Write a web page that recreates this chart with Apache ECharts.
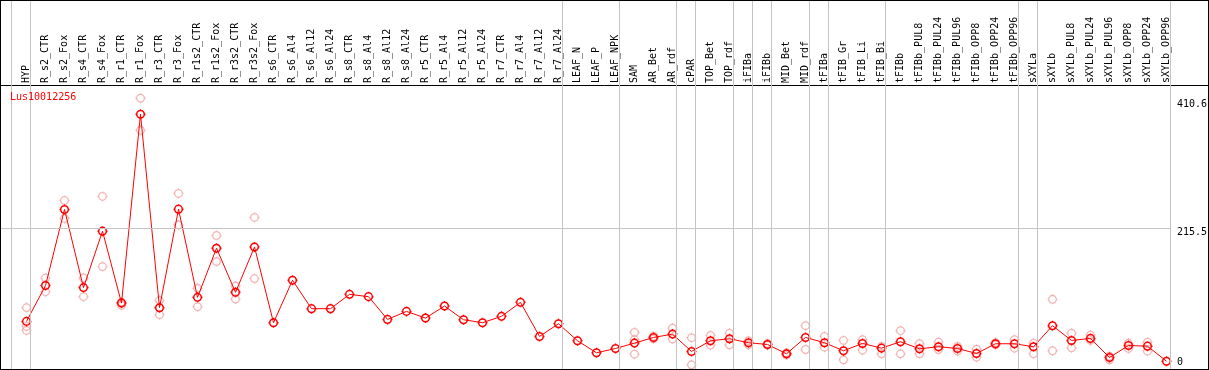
<!DOCTYPE html>
<html>
<head>
<meta charset="utf-8">
<script src="https://cdn.jsdelivr.net/npm/echarts@6/dist/echarts.min.js"></script>
<style>
  html, body { margin: 0; padding: 0; background: #fff; }
  #main { width: 1209px; height: 370px; border: 1px solid #000; box-sizing: border-box; }
</style>
</head>
<body>
<div id="main"></div>
<script>
// sample names (top axis)
var categories = ['HYP','R_s2_CTR','R_s2_Fox','R_s4_CTR','R_s4_Fox','R_r1_CTR','R_r1_Fox','R_r3_CTR','R_r3_Fox',
  'R_r1s2_CTR','R_r1s2_Fox','R_r3s2_CTR','R_r3s2_Fox','R_s6_CTR','R_s6_Al4','R_s6_Al12','R_s6_Al24',
  'R_s8_CTR','R_s8_Al4','R_s8_Al12','R_s8_Al24','R_r5_CTR','R_r5_Al4','R_r5_Al12','R_r5_Al24',
  'R_r7_CTR','R_r7_Al4','R_r7_Al12','R_r7_Al24','LEAF_N','LEAF_P','LEAF_NPK','SAM','AR_Bet','AR_rdf',
  'cPAR','TOP_Bet','TOP_rdf','iFIBa','iFIBb','MID_Bet','MID_rdf','tFIBa','tFIB_Gr','tFIB_Li','tFIB_Bi',
  'tFIBb','tFIBb_PUL8','tFIBb_PUL24','tFIBb_PUL96','tFIBb_OPP8','tFIBb_OPP24','tFIBb_OPP96',
  'sXYLa','sXYLb','sXYLb_PUL8','sXYLb_PUL24','sXYLb_PUL96','sXYLb_OPP8','sXYLb_OPP24','sXYLb_OPP96'];

// mean expression
var meanVals = [69.4,125.7,245.5,122.5,211.3,98.2,395.2,90.9,245.9,107.2,184.5,115.1,186.5,67.3,134.0,89.4,89.4,
  111.9,108.3,72.5,85.1,74.6,93.5,72.0,67.3,77.3,99.3,45.7,65.7,38.9,20.0,26.8,35.2,44.1,49.4,
  22.1,38.9,42.1,35.8,33.1,18.4,44.1,35.8,23.2,34.7,27.3,37.4,26.3,29.5,26.8,18.9,34.2,34.2,
  29.5,62.6,39.4,42.6,12.6,31.5,30.4,6.8];

// replicates (null = not shown)
var repA = [91.1,137.6,259.6,137.6,266.0,99.8,420.4,102.5,270.7,121.4,204.5,125.0,232.9,null,null,null,null,
  null,null,null,null,null,null,null,null,null,null,null,null,null,null,null,52.0,46.0,58.8,
  43.7,47.3,50.9,38.9,34.5,20.0,62.6,45.7,39.4,40.5,30.0,54.7,34.2,36.7,30.0,25.7,36.0,40.5,
  35.2,104.1,50.9,47.8,14.7,35.2,36.7,null];
var repB = [55.2,116.2,231.3,108.3,155.6,94.6,370.0,79.9,221.2,92.5,163.5,104.5,136.7,null,null,null,null,
  null,null,null,null,null,null,null,null,null,null,null,null,null,null,null,17.8,42.0,41.5,
  1.1,32.0,32.6,32.6,32.0,16.5,25.2,28.9,9.0,24.1,18.4,18.4,18.4,25.2,22.6,13.1,32.5,27.3,
  18.4,23.2,27.9,39.4,9.0,26.8,22.6,null];
var repC = [61.5,null,null,null,null,null,null,null,null,null,null,null,null,null,null,null,null,
  null,null,null,null,null,null,null,null,null,null,null,null,null,null,null,40.5,null,null,
  null,null,null,null,null,null,null,null,null,null,null,null,null,null,null,null,null,null,
  null,null,null,null,null,null,null,null];

// last index of each sample group (separator drawn just right of it)
var groupEnds = [-1,0,28,31,34,35,37,38,39,41,42,45,52,53,60];
var yLabels = [0, 215.5, 410.6];
var geneName = 'Lus10012256';

var mono = 'DejaVu Sans Mono';
// small open circle with four tiny ticks
var ring = 'path://M5,0V1M5,9V10M0,5H1M9,5H10M8.8,5A3.8,3.8,0,1,1,1.2,5A3.8,3.8,0,1,1,8.8,5Z';
var xMin = -25.5 / 19, xMax = (1207 - 25.5) / 19;
var kY = 137 / 215.5;
var sepOff = 4 / 19;

function pairs(arr) {
  var out = [];
  arr.forEach(function (v, i) { if (v != null) out.push([i, v]); });
  return out;
}
var repData = pairs(repA).concat(pairs(repB), pairs(repC));
var idx = categories.map(function (c, i) { return i; });

var sepLines = groupEnds.map(function (g) { return { xAxis: g + sepOff }; });
sepLines.push([{ coord: [xMin, 215.5] }, { coord: [60 + sepOff, 215.5] }]);

var myChart = echarts.init(document.getElementById('main'));
var option = {
  animation: false,
  title: {
    text: geneName, left: 9, top: 91, padding: 0,
    textStyle: { color: '#ff0000', fontFamily: mono, fontSize: 10, fontWeight: 'normal' }
  },
  grid: { left: 0, right: 0, top: 0, bottom: 0, outerBoundsMode: 'none' },
  xAxis: {
    type: 'value', position: 'top', offset: -84,
    min: xMin, max: xMax,
    axisLine: { show: true, onZero: false, lineStyle: { color: '#000', width: 1 } },
    axisTick: { show: false },
    splitLine: { show: false },
    axisLabel: {
      customValues: idx, rotate: -90, margin: 2,
      fontFamily: mono, fontSize: 10, color: '#000',
      formatter: function (v) { return categories[Math.round(v)] || ''; }
    }
  },
  yAxis: {
    type: 'value', position: 'right',
    min: -3.5 / kY, max: 364.5 / kY,
    axisLine: { show: false }, axisTick: { show: false }, splitLine: { show: false },
    axisLabel: {
      customValues: yLabels, inside: true, align: 'left', margin: 31,
      fontFamily: mono, fontSize: 10, color: '#000',
      formatter: function (v) {
        if (v === 0) return '{a|0}';
        if (v === 215.5) return '{b|215.5}';
        return '{c|' + v + '}';
      },
      rich: {
        a: { fontFamily: mono, fontSize: 10, padding: [0, 0, 6, 0] },
        b: { fontFamily: mono, fontSize: 10, padding: [8, 0, 0, 0] },
        c: { fontFamily: mono, fontSize: 10 }
      }
    }
  },
  series: [{
    type: 'scatter', data: repData, symbol: ring, symbolSize: 10,
    itemStyle: { color: 'rgba(0,0,0,0)', borderColor: '#f0a0a0', borderWidth: 1.3 },
    markLine: {
      silent: true, symbol: 'none', label: { show: false },
      lineStyle: { color: '#c4c4c4', width: 1, type: 'solid' },
      data: sepLines
    },
    z: 2
  }, {
    type: 'line', data: pairs(meanVals), symbol: ring, symbolSize: 10, showAllSymbol: true,
    lineStyle: { color: '#ff0000', width: 1 },
    itemStyle: { color: 'rgba(0,0,0,0)', borderColor: '#ff0000', borderWidth: 1.5 },
    z: 3
  }]
};
if (option && typeof option === "object") {
  myChart.setOption(option, true);
}
</script>
</body>
</html>
